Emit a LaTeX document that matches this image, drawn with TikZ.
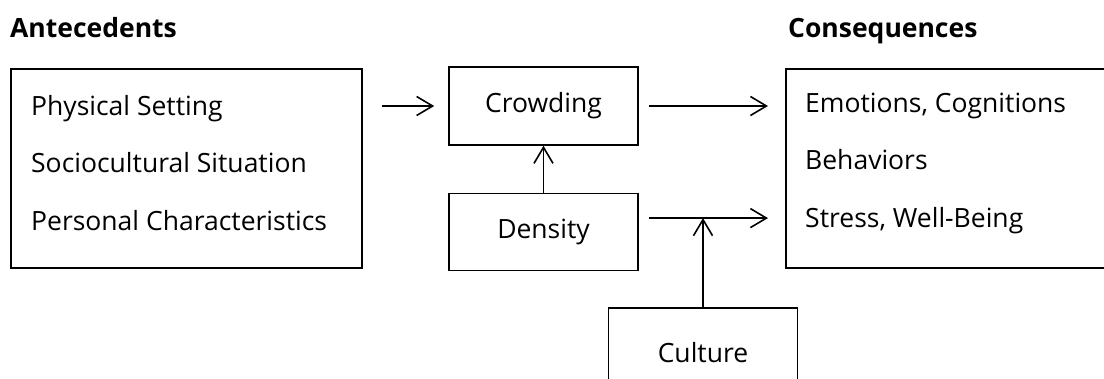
\documentclass[tikz,border=0pt]{standalone}
\usepackage{fontspec}
\setmainfont{Open Sans}
\usetikzlibrary{arrows.meta, positioning}

\begin{document}
\begin{tikzpicture}[x=1pt, y=-1pt, >={Straight Barb[length=16pt, width=19pt]},
  bigbox/.style={draw, line width=1.6pt, anchor=north west, minimum height=199pt},
  listtext/.style={align=left, anchor=west, inner sep=0pt,
        font=\fontsize{26.5}{57.5}\selectfont},
  smallbox/.style={draw, line width=1.6pt, minimum width=189pt, inner sep=0pt,
        font=\fontsize{26.5}{30}\selectfont},
  heading/.style={anchor=base west, inner sep=0pt, font=\fontsize{26.5}{30}\selectfont\bfseries},
  link/.style={->, line width=1.6pt}]
  \useasboundingbox (0,0) rectangle (1104,379);
  \clip (0,0) rectangle (1104,379);

  \node[heading] (ante) at (10,38) {Antecedents};
  \node[heading] (cons) at (788,38) {Consequences};

  % left and right boxes
  \node[bigbox, minimum width=351pt] (abox) at (10,68) {};
  \node[listtext] (alist) at (31,163)
    {Physical Setting\\Sociocultural Situation\\Personal Characteristics};
  \node[bigbox, minimum width=326pt] (cbox) at (785,68) {};
  \node[listtext] (clist) at (805,163)
    {Emotions, Cognitions\\Behaviors\\Stress, Well-Being};

  \node[smallbox, minimum height=78pt] (crowd) at (543.5,106) {Crowding};
  \node[smallbox, minimum height=77pt, below=47pt of crowd] (dens) {Density};
  \node[smallbox, minimum height=90pt, anchor=north] (cult) at (703,307) {Culture};

  \coordinate (dout) at ([yshift=14pt]dens.east);
  \coordinate (cin) at ([yshift=14pt]dens.east -| cbox.west);
  \coordinate (meet) at (cult.north |- dout);

  \draw[link, shorten <=19pt, shorten >=14pt] (abox.east |- crowd) -- (crowd.west);
  \draw[link, shorten <=10pt, shorten >=17pt] (crowd.east) -- (crowd.east -| cbox.west);
  \draw[link, shorten <=10pt, shorten >=17pt] (dout) -- (cin);
  \draw[link] (dens.north) -- (crowd.south);
  \draw[link] (cult.north) -- (meet);
\end{tikzpicture}
\end{document}
